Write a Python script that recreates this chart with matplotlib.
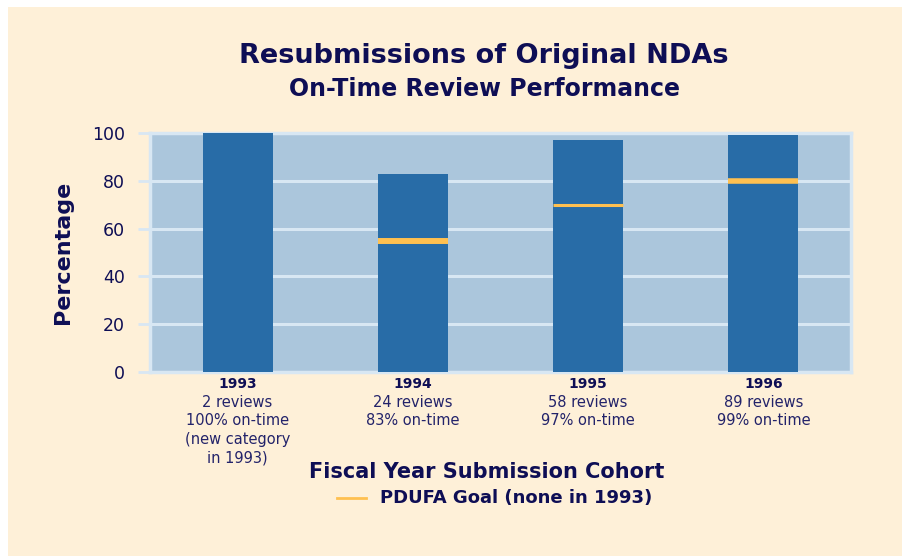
import matplotlib
matplotlib.use("Agg")
from matplotlib import pyplot as plt
from matplotlib.patches import Rectangle
from matplotlib.lines import Line2D

# data
years = ["1993", "1994", "1995", "1996"]
on_time = [100, 83, 97, 99]
reviews = [2, 24, 58, 89]
goal_years = ["1994", "1995", "1996"]
goal_values = [55, 70, 80]
notes = ["(new category\nin 1993)", "", "", ""]
yticks = [0, 20, 40, 60, 80, 100]

cream = "#FEF0D8"
navy = "#0E0E55"
plot_bg = "#ABC6DC"
bar_col = "#286CA7"
goal_col = "#FFC050"
light = "#D8E7F3"

plt.rcParams['font.family'] = ['DejaVu Sans']

fig = plt.figure(figsize=(9.03, 5.56), dpi=100)
fig.patch.set_facecolor("white")
fig.patches.append(Rectangle((8 / 903, -0.05), 1.1, 1.05 - 7 / 556, transform=fig.transFigure,
                             facecolor=cream, edgecolor="none", zorder=-10))

ax = fig.add_axes([150 / 903, 1 - 372 / 556, 701 / 903, 239 / 556])
ax.set_facecolor(plot_bg)
x = list(range(len(years)))
ax.bar(x, on_time, width=0.4, color=bar_col, zorder=3)
gx = [years.index(y) for y in goal_years]
for xi, gv, lw in zip(gx, goal_values, [4.3, 2.2, 4.0]):
    ax.hlines(gv, xi - 0.2, xi + 0.2, colors=goal_col, linewidth=lw, zorder=4)

ax.set_xlim(-0.5, len(years) - 0.5)
ax.set_ylim(0, 100)
ax.set_yticks(yticks)
ax.set_yticklabels([str(t) for t in yticks], fontsize=12.5, color=navy)
ax.tick_params(axis="y", length=9, width=2, color=light, pad=9)
ax.grid(axis="y", color=light, linewidth=2.2, zorder=1)
ax.set_axisbelow(True)
ax.set_xticks([])
for s in ax.spines.values():
    s.set_color(light)
    s.set_linewidth(2.5)

ax.set_ylabel("Percentage", fontsize=16, fontweight="bold", color=navy, labelpad=14)

for xi, yr, rv, pc, nt in zip(x, years, reviews, on_time, notes):
    ax.text(xi, -0.022, yr, transform=ax.get_xaxis_transform(), ha="center", va="top",
            fontsize=10, fontweight="bold", color=navy)
    body = f"{rv} reviews\n{pc}% on-time"
    if nt:
        body += "\n" + nt
    ax.text(xi, -0.095, body, transform=ax.get_xaxis_transform(), ha="center", va="top",
            fontsize=10.5, color="#23236A", linespacing=1.3)

fig.text(0.536, 1 - 56 / 556, "Resubmissions of Original NDAs", ha="center", va="center",
         fontsize=19.5, fontweight="bold", color=navy)
fig.text(0.536, 1 - 89 / 556, "On-Time Review Performance", ha="center", va="center",
         fontsize=17, fontweight="bold", color=navy)
fig.text(0.539, 1 - 472 / 556, "Fiscal Year Submission Cohort", ha="center", va="center",
         fontsize=15, fontweight="bold", color=navy)

fig.lines.append(Line2D([337 / 903, 366 / 903], [1 - 498 / 556] * 2, transform=fig.transFigure,
                        color=goal_col, linewidth=2))
fig.text(380 / 903, 1 - 498 / 556, "PDUFA Goal (none in 1993)", ha="left", va="center",
         fontsize=13, fontweight="bold", color=navy)

fig.savefig("out.png", dpi=100, facecolor=fig.get_facecolor())
